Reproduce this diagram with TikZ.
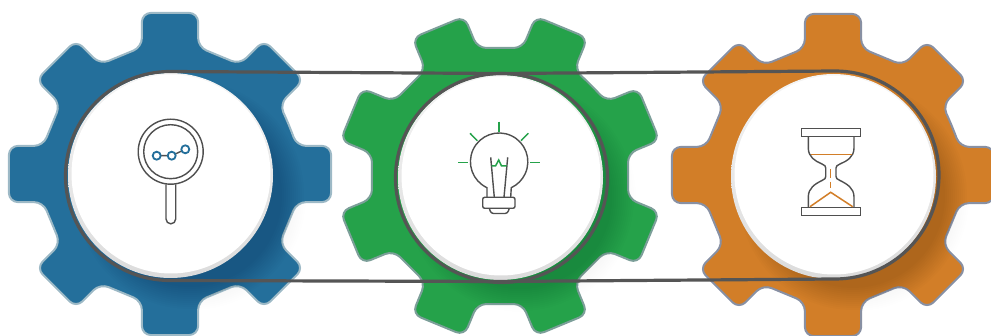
\documentclass[tikz,border=0pt]{standalone}
\usepackage{tikz}
\usetikzlibrary{calc}

\definecolor{gearblue}{HTML}{246F9B}
\definecolor{geargreen}{HTML}{25A24A}
\definecolor{gearorange}{HTML}{D27E28}
\definecolor{rimblue}{HTML}{9DB9C6}
\definecolor{rimgreen}{HTML}{7C9F99}
\definecolor{rimorange}{HTML}{8890A3}
\definecolor{beltgray}{HTML}{555555}
\definecolor{icongray}{HTML}{4F4F4F}

\tikzset{
  gearshape/.style={rounded corners=9pt},
  belt/.style={draw=beltgray,line width=3.2pt},
  iconline/.style={draw=icongray,line width=1.4pt},
  iconblue/.style={draw=gearblue,line width=1.8pt},
  icongreen/.style={draw=geargreen,line width=1.5pt},
  iconorange/.style={draw=gearorange,line width=1.5pt},
}

\newcommand{\gearpath}{(-22.5:128.7)
  \foreach \a in {0,45,...,315} {
    -- ({\a-12.5}:130) -- ({\a-9.9}:163.5) -- ({\a+9.9}:163.5) -- ({\a+12.5}:130)
  } -- cycle}

% #1 hub, #2 rotation, #3 fill, #4 outline
\newcommand{\drawgear}[4]{
  \foreach \s in {0,...,9}
    \fill[black,opacity=.003] ($(#1)+(22,22)$) circle ({96+2*\s});
  \filldraw[gearshape,line width=2pt,shift={(#1)},rotate=#2,fill=#3,draw=#4] \gearpath;
  \begin{scope}
    \clip[gearshape,shift={(#1)},rotate=#2] \gearpath;
    \foreach \s in {0,...,11}
      \fill[black,opacity=.012] ($(#1)+(20,21)$) circle ({92+2*\s});
  \end{scope}
  \shade[top color=white!96!black,bottom color=white!86!black] ($(#1)+(.5,1.5)$) circle (102.5);
  \fill[white] ($(#1)+(1,0)$) circle (99.5);
}

\begin{document}
\begin{tikzpicture}[x=1pt,y=-1pt]
\useasboundingbox (0,0) rectangle (991,336);
\begin{scope}
\clip (0,0) rectangle (991,336);

\coordinate (hubsearch) at (170,174);
\coordinate (hubidea) at (500,176);
\coordinate (hubtime) at (833,175);

\drawgear{hubsearch}{0}{gearblue}{rimblue}
\drawgear{hubidea}{22.5}{geargreen}{rimgreen}
\drawgear{hubtime}{0}{gearorange}{rimorange}

\coordinate (belt1) at (170,71.5);
\coordinate (belt2) at (500,73.5);
\coordinate (belt3) at (835,71);
\coordinate (belt4) at (835,279);
\coordinate (belt5) at (500,281.5);

\draw[belt] (belt1)--(belt2)--(belt3) arc (-90:90:104)--(belt5)--(170,280.5) arc (90:270:104.5)--cycle;
\draw[belt] (501.5,178) ellipse (106 and 104.5);
\end{scope}

% magnifier
\coordinate (lens) at (170.7,151.7);
\coordinate (dot1) at (156.7,155.7);
\coordinate (dot2) at (171.7,155.7);
\coordinate (dot3) at (185.3,149.3);
\draw[iconline] (lens) circle (32.5);
\draw[iconline] (lens) circle (27);
\draw[iconline] (166,184.3)--(166,219) arc (180:0:4.85)--(175.7,184.3);
\draw[iconline] (dot1)--(dot2)--(dot3);
\draw[iconblue,fill=white] (dot1) circle (4);
\draw[iconblue,fill=white] (dot2) circle (4);
\draw[iconblue,fill=white] (dot3) circle (4);

% bulb
\draw[iconline] (487,197.3)--(487,187.7) arc (115:425:28.7)--(510.7,197.3);
\draw[iconline] (490.7,157.3)--(494.3,197.3);
\draw[iconline] (507.7,157.3)--(504,197.3);
\draw[icongreen] (491.7,166)--(495.5,166)--(498.7,160)--(501.5,166)--(506.7,166);
\draw[iconline,rounded corners=2pt] (482.7,197.3) rectangle (515,208.3);
\draw[iconline,rounded corners=2.5pt] (489.3,208.3)--(491,213.5)--(507.5,213.5)--(509.3,208.3);
\draw[icongreen] (499,121.7)--(499,131.7);
\draw[icongreen] (470,133.3)--(477.3,140.7);
\draw[icongreen] (528.3,133.3)--(521,140.7);
\draw[icongreen] (458.3,162.3)--(468.3,162.3);
\draw[icongreen] (530,162.3)--(540,162.3);

% hourglass
\draw[iconline] (801.7,128.3) rectangle (860.7,136.7);
\draw[iconline] (801.7,207.3) rectangle (860.7,215.7);
\draw[iconline] (808.3,136.7)--(808.3,148) .. controls (808.3,157) and (815,161) .. (822,164) .. controls (825,165.5) and (825.7,166) .. (825.7,168)--(825.7,176.5) .. controls (825.7,178.5) and (825,179) .. (822,180.5) .. controls (815,184) and (808.3,188) .. (808.3,197)--(808.3,207.3);
\draw[iconline] (854,136.7)--(854,148) .. controls (854,157) and (847,161) .. (840,164) .. controls (837,165.5) and (836,166) .. (836,168)--(836,176.5) .. controls (836,178.5) and (837,179) .. (840,180.5) .. controls (847,184) and (854,188) .. (854,197)--(854,207.3);
\draw[iconorange] (810.7,154.3)--(851.7,154.3);
\draw[iconorange] (830.7,169)--(830.7,177.7);
\draw[iconorange] (830.7,181.7)--(830.7,187.7);
\draw[iconorange] (810,206.7)--(830.7,192.3)--(852.7,206.7);
\end{tikzpicture}
\end{document}
